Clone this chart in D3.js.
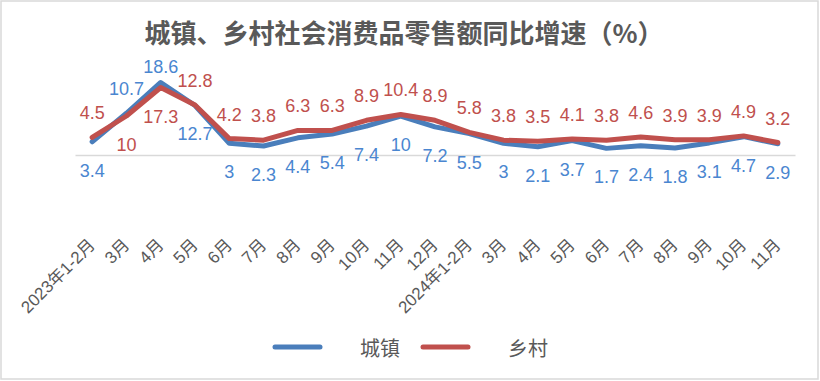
<!DOCTYPE html>
<html>
<head>
<meta charset="utf-8">
<script src="https://cdn.jsdelivr.net/npm/d3@7"></script>
<style>
  html, body { margin: 0; padding: 0; background: #fff; }
  svg { display: block; }
</style>
</head>
<body>
<svg id="chart" width="820" height="381"></svg>
<script>
const categories = ["2023年1-2月","3月","4月","5月","6月","7月","8月","9月","10月","11月","12月",
  "2024年1-2月","3月","4月","5月","6月","7月","8月","9月","10月","11月"];
const urban = [3.4,10.7,18.6,12.7,3,2.3,4.4,5.4,7.4,10,7.2,5.5,3,2.1,3.7,1.7,2.4,1.8,3.1,4.7,2.9];
const rural = [4.5,10,17.3,12.8,4.2,3.8,6.3,6.3,8.9,10.4,8.9,5.8,3.8,3.5,4.1,3.8,4.6,3.9,3.9,4.9,3.2];
const seriesNames = ["城镇","乡村"];
const title = "城镇、乡村社会消费品零售额同比增速（%）";

const W = 820, H = 381;
const svg = d3.select("#chart");
const latin = "'Liberation Sans', 'Noto Sans CJK SC', sans-serif";
const cjk = "'Noto Sans CJK SC', sans-serif";

// frame
svg.append("rect").attr("x",1).attr("y",1).attr("width",W-3).attr("height",H-3)
  .attr("fill","#fff").attr("stroke","#d9d9d9").attr("stroke-width",1.5);

// title
svg.append("text").attr("x",404).attr("y",43).attr("text-anchor","middle")
  .attr("font-family",cjk).attr("font-size",26).attr("font-weight","bold")
  .attr("fill","#595959").text(title);

const idx = categories.map((c,i)=>i);
const x = d3.scaleBand().domain(idx).range([75,795]);
const y = d3.scaleLinear().domain([0,20]).range([155,77]);
const cx = i => x(i) + x.bandwidth()/2;

// baseline axis
const axis = d3.axisBottom(x).tickSize(0).tickFormat("");
const gAxis = svg.append("g").attr("transform",`translate(0,${y(0)})`).call(axis);
gAxis.select(".domain").attr("stroke","#d9d9d9").attr("stroke-width",1.5);

// category labels
svg.append("g").selectAll("text").data(idx).join("text")
  .attr("transform", i => `translate(${cx(i)+4},246) rotate(-45)`)
  .attr("text-anchor","end")
  .attr("font-family",latin).attr("font-size",17).attr("fill","#595959")
  .text(i => categories[i]);

const series = [
  {name: seriesNames[0], values: urban, color: "#4a7ebb", label: "#4a86d0"},
  {name: seriesNames[1], values: rural, color: "#c0504d", label: "#c0504d"}
];

const line = d3.line().x((d,i)=>cx(i)).y(d=>y(d));
series.forEach(s => {
  svg.append("path").datum(s.values).attr("d",line)
    .attr("fill","none").attr("stroke",s.color).attr("stroke-width",5)
    .attr("stroke-linejoin","round").attr("stroke-linecap","round");
});

// data labels: higher value above, lower below (kept clear of the title)
series.forEach((s,si) => {
  const other = series[1-si].values;
  svg.append("g").selectAll("text").data(s.values).join("text")
    .attr("x",(d,i)=>cx(i))
    .attr("y",(d,i)=> d >= other[i] ? Math.max(y(d) - 24, 67) : y(d) + 29)
    .attr("dominant-baseline","central")
    .attr("text-anchor","middle")
    .attr("font-family",latin).attr("font-size",18).attr("fill",s.label)
    .text(d=>d);
});

// legend
const leg = [{x1:275, tx:360},{x1:423, tx:508}];
series.forEach((s,si)=>{
  svg.append("line").attr("x1",leg[si].x1).attr("x2",leg[si].x1+45)
    .attr("y1",347).attr("y2",347).attr("stroke",s.color).attr("stroke-width",5)
    .attr("stroke-linecap","round");
  svg.append("text").attr("x",leg[si].tx).attr("y",347).attr("dominant-baseline","central")
    .attr("font-family",cjk).attr("font-size",20).attr("fill","#595959").text(s.name);
});
</script>
</body>
</html>
